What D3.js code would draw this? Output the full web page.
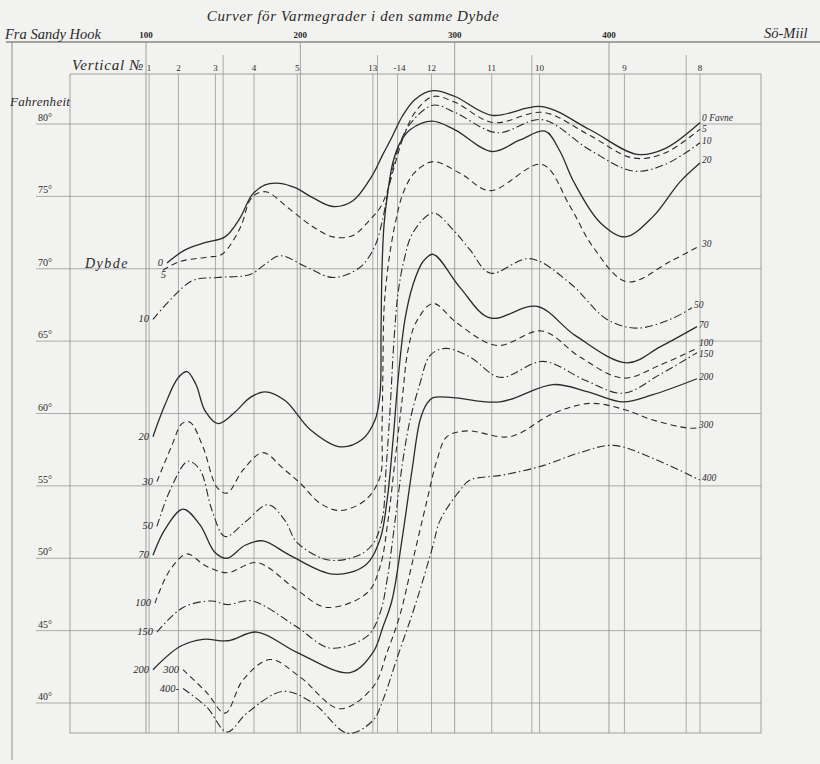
<!DOCTYPE html>
<html>
<head>
<meta charset="utf-8">
<script src="https://cdn.jsdelivr.net/npm/d3@7"></script>
<style>
  body { margin: 0; background: #f2f2f0; }
  svg { display: block; }
  text { font-family: "Liberation Serif", "DejaVu Serif", serif; fill: #2a2a2a; }
  .it { font-style: italic; }
</style>
</head>
<body>
<div id="chart"></div>
<script>
// --- data (Sö-Miil from Sandy Hook, degrees Fahrenheit) ---
var mileTicks = [100, 200, 300, 400];
var halfTicks = [150, 250, 350, 450];
var tempTicks = [40, 45, 50, 55, 60, 65, 70, 75, 80];
var stationNames = ["1", "2", "3", "4", "5", "13", "14", "12", "11", "10", "9", "8"];
var stationMiles = [102, 121, 145, 170, 198, 247, 263, 285, 324, 355, 410, 459];
var depths = ["0", "5", "10", "20", "30", "50", "70", "100", "150", "200", "300", "400"];

var t0 = [[113.6,70.4],[125.3,71.3],[138.2,71.8],[151.2,72.2],[160.9,73.5],[168.7,75.1],[177.1,75.8],[186.8,75.9],[196.6,75.6],[208.2,74.9],[221.2,74.3],[234.1,74.7],[246.4,76.4],[253.5,77.9],[259.4,79.1],[265.9,80.5],[274.3,81.7],[286.0,82.3],[300.2,81.9],[324.2,80.6],[356.6,81.2],[387.7,79.6],[418.2,77.9],[436.3,78.3],[459.0,80.1]];
var t5 = [[111.0,69.9],[122.0,70.5],[139.5,70.8],[149.2,71.0],[160.9,72.8],[167.4,74.75],[171.9,75.2],[178.4,75.3],[193.3,74.1],[208.2,72.9],[221.2,72.2],[234.1,72.3],[245.2,73.4],[251.6,74.2],[256.2,75.3],[260.7,77.0],[266.5,79.0],[274.3,80.8],[286.0,81.9],[300.2,81.5],[324.9,80.1],[357.3,80.8],[387.7,79.2],[415.6,77.65],[436.3,78.0],[459.0,79.65]];
var t10 = [[104.5,66.5],[117.5,68.05],[130.5,69.2],[146.0,69.4],[167.4,69.6],[177.1,70.3],[186.8,70.9],[204.3,70.1],[221.2,69.4],[238.7,70.1],[248.4,71.6],[253.5,73.5],[256.2,75.0],[259.4,76.7],[264.0,78.5],[271.1,80.0],[286.0,81.3],[300.2,80.8],[327.4,79.4],[356.6,80.3],[387.7,78.2],[415.6,76.75],[436.3,77.2],[459.0,78.7]];
var t20 = [[104.5,58.4],[112.3,60.6],[120.7,62.45],[126.6,62.9],[132.4,62.0],[138.2,60.2],[146.7,59.3],[157.7,60.1],[167.4,61.1],[177.1,61.5],[190.1,60.9],[206.3,58.9],[225.7,57.7],[240.0,58.2],[248.4,59.55],[251.6,61.3],[252.3,65.8],[252.9,69.9],[254.2,73.0],[256.8,75.4],[260.1,77.4],[264.6,78.7],[271.1,79.6],[285.3,80.2],[300.2,79.6],[324.2,78.1],[342.4,78.9],[358.6,79.5],[368.3,78.1],[376.7,76.1],[394.2,73.2],[410.4,72.2],[428.5,73.6],[446.0,76.0],[459.0,77.3]];
var t30 = [[107.1,55.3],[116.8,57.8],[123.3,59.3],[128.5,59.4],[136.9,57.7],[146.0,54.9],[152.5,54.5],[162.9,56.1],[175.8,57.3],[188.8,56.2],[199.8,55.2],[212.8,53.8],[225.7,53.3],[241.9,54.0],[251.6,55.6],[252.9,58.9],[253.5,63.0],[254.2,67.15],[256.2,69.6],[258.8,71.6],[262.0,73.4],[266.5,75.2],[273.7,76.6],[286.0,77.4],[303.5,76.6],[322.9,75.4],[356.6,77.2],[374.8,74.3],[389.7,71.5],[411.7,69.1],[439.6,70.5],[459.0,71.6]];
var t50 = [[107.1,52.2],[115.6,54.7],[127.2,56.7],[135.0,56.1],[142.8,53.3],[151.2,51.5],[164.2,52.5],[179.1,53.7],[190.1,52.6],[197.8,51.1],[217.3,49.9],[235.4,50.1],[246.4,50.9],[252.9,52.6],[255.5,56.1],[258.1,60.2],[260.7,65.1],[263.3,68.3],[267.2,70.6],[273.0,72.5],[286.0,73.85],[298.9,72.7],[310.0,71.3],[322.9,69.7],[348.8,70.7],[374.8,69.0],[398.7,66.5],[418.2,65.9],[439.6,66.5],[453.8,67.3]];
var t70 = [[104.5,50.2],[112.3,52.0],[124.0,53.4],[135.0,52.3],[144.7,50.4],[152.5,50.0],[164.2,50.9],[175.8,51.2],[193.3,50.2],[221.2,48.9],[241.9,49.5],[251.6,51.3],[256.2,54.0],[260.1,58.2],[263.3,62.3],[267.8,66.5],[273.0,68.9],[279.5,70.5],[286.0,71.0],[303.5,68.7],[322.9,66.6],[353.4,67.4],[378.0,65.4],[411.7,63.5],[433.1,64.6],[457.0,66.0]];
var t100 = [[105.8,46.9],[115.6,49.2],[126.6,50.3],[138.2,49.5],[152.5,49.0],[171.9,49.7],[197.8,47.8],[217.3,46.6],[243.2,47.6],[251.6,49.4],[256.8,52.6],[261.4,56.8],[265.9,60.9],[269.8,64.4],[275.0,66.3],[286.0,67.6],[301.5,66.25],[327.4,64.7],[356.6,65.7],[381.2,63.9],[409.1,62.45],[433.1,63.35],[457.0,64.5]];
var t150 = [[107.1,44.9],[124.0,46.6],[142.8,47.05],[152.5,46.8],[168.7,47.05],[197.8,45.25],[219.2,43.8],[243.2,44.6],[251.6,46.2],[256.2,48.5],[261.4,52.6],[266.5,56.8],[271.1,59.55],[277.6,62.1],[284.0,64.0],[293.8,64.5],[310.0,63.9],[329.4,62.5],[357.3,63.6],[384.5,62.3],[409.1,61.4],[433.1,62.7],[457.0,64.2]];
var t200 = [[104.5,42.3],[122.0,43.9],[136.9,44.4],[153.1,44.3],[171.9,44.9],[197.8,43.5],[232.2,42.1],[247.1,43.5],[253.5,45.25],[259.4,47.1],[265.9,51.3],[272.4,56.1],[277.6,59.55],[282.1,60.7],[286.0,61.1],[298.9,61.1],[329.4,60.8],[363.7,62.0],[386.4,61.5],[409.1,60.8],[428.5,61.3],[457.0,62.4]];
var t300 = [[124.0,42.3],[139.5,40.7],[151.2,39.3],[162.9,41.6],[180.4,43.0],[199.8,41.8],[225.7,39.6],[247.1,41.1],[256.2,43.5],[264.6,46.1],[273.0,49.9],[282.1,54.0],[288.6,56.8],[295.0,58.4],[308.0,58.8],[335.9,58.4],[363.7,60.0],[387.7,60.7],[409.1,60.3],[428.5,59.55],[450.6,59.0],[457.0,59.0]];
var t400 = [[124.0,41.0],[139.5,39.7],[152.5,38.0],[165.4,39.3],[188.8,40.8],[208.2,40.0],[230.9,37.9],[247.1,38.8],[253.5,40.2],[263.3,43.3],[272.4,46.1],[279.5,48.5],[286.0,50.9],[290.5,52.6],[303.5,54.7],[310.0,55.4],[331.3,55.75],[357.3,56.4],[381.2,57.3],[402.6,57.8],[428.5,56.9],[459.0,55.4]];

var curves = [t0, t5, t10, t20, t30, t50, t70, t100, t150, t200, t300, t400];

// --- layout ---
var width = 820, height = 764;
var box = {left: 70, right: 761, top: 74, bottom: 733};
// label nudges (px) for the depth names at the right end of each curve
var rightDy = [-5, 0, -2, -3, -2, -3, -2, -5, 1, -2, -3, -2];

var x = d3.scaleLinear().domain([100, 400]).range([146, 609]);
var y = d3.scaleLinear().domain([40, 80]).range([703, 124]);

var svg = d3.select("#chart").append("svg")
    .attr("width", width)
    .attr("height", height);

var ink = "#2b2b2b", grid = "#8c8c8c";

// outer frame
svg.append("line").attr("x1", 6).attr("x2", 820).attr("y1", 42).attr("y2", 42)
    .attr("stroke", "#555").attr("stroke-width", 1);
svg.append("line").attr("x1", 12).attr("x2", 12).attr("y1", 42).attr("y2", 760)
    .attr("stroke", "#777").attr("stroke-width", 0.8);

// inner box
svg.append("rect")
    .attr("x", box.left).attr("y", box.top)
    .attr("width", box.right - box.left).attr("height", box.bottom - box.top)
    .attr("fill", "none").attr("stroke", grid).attr("stroke-width", 0.8);

// temperature lines
svg.append("g").selectAll("line")
    .data(tempTicks)
    .enter().append("line")
    .attr("x1", 36).attr("x2", box.right)
    .attr("y1", function(d) { return y(d); })
    .attr("y2", function(d) { return y(d); })
    .attr("stroke", grid).attr("stroke-width", 0.7);

svg.append("g").selectAll("text")
    .data(tempTicks)
    .enter().append("text")
    .attr("x", 38)
    .attr("y", function(d) { return y(d) - 3; })
    .style("font-size", "10px")
    .text(function(d) { return d + "°"; });

// mile lines (top scale)
svg.append("g").selectAll("line")
    .data(mileTicks)
    .enter().append("line")
    .attr("x1", function(d) { return x(d); })
    .attr("x2", function(d) { return x(d); })
    .attr("y1", 42).attr("y2", box.bottom)
    .attr("stroke", grid).attr("stroke-width", 0.8);

svg.append("g").selectAll("line")
    .data(halfTicks)
    .enter().append("line")
    .attr("x1", function(d) { return x(d); })
    .attr("x2", function(d) { return x(d); })
    .attr("y1", 55).attr("y2", box.bottom)
    .attr("stroke", grid).attr("stroke-width", 0.7);

svg.append("g").selectAll("text")
    .data(mileTicks)
    .enter().append("text")
    .attr("x", function(d) { return x(d); })
    .attr("y", 38)
    .attr("text-anchor", "middle")
    .style("font-size", "9px")
    .style("font-weight", "bold")
    .text(function(d) { return d; });

// station verticals
svg.append("g").selectAll("line")
    .data(stationMiles)
    .enter().append("line")
    .attr("x1", function(d) { return x(d); })
    .attr("x2", function(d) { return x(d); })
    .attr("y1", box.top).attr("y2", box.bottom)
    .attr("stroke", grid).attr("stroke-width", 0.7);

svg.append("g").selectAll("text")
    .data(stationNames)
    .enter().append("text")
    .attr("x", function(d, i) { return x(stationMiles[i]) + (d == "14" ? 2 : 0); })
    .attr("y", 71)
    .attr("text-anchor", "middle")
    .style("font-size", "9px")
    .text(function(d) { return d == "14" ? "-14" : d; });

// titles
svg.append("text").attr("class", "it")
    .attr("x", 353).attr("y", 21).attr("text-anchor", "middle")
    .style("font-size", "15px").style("letter-spacing", "0.6px")
    .text("Curver för Varmegrader i den samme Dybde");
svg.append("text").attr("class", "it")
    .attr("x", 5).attr("y", 39)
    .style("font-size", "14.5px")
    .text("Fra Sandy Hook");
svg.append("text").attr("class", "it")
    .attr("x", 764).attr("y", 38)
    .style("font-size", "14.5px")
    .text("Sö-Miil");
svg.append("text").attr("class", "it")
    .attr("x", 72).attr("y", 70)
    .style("font-size", "15px").style("letter-spacing", "0.8px")
    .text("Vertical №");
svg.append("text").attr("class", "it")
    .attr("x", 10).attr("y", 106)
    .style("font-size", "13px").style("letter-spacing", "0.3px")
    .text("Fahrenheit");
svg.append("text").attr("class", "it")
    .attr("x", 85).attr("y", 268)
    .style("font-size", "14px").style("letter-spacing", "1.5px")
    .text("Dybde");

// depth curves
var line = d3.line()
    .x(function(d) { return x(d[0]); })
    .y(function(d) { return y(d[1]); })
    .curve(d3.curveCatmullRom.alpha(0.5));

var dashes = [null, "6,4", "8,3,1.5,3"];

svg.append("g").selectAll("path")
    .data(curves)
    .enter().append("path")
    .attr("d", line)
    .attr("fill", "none")
    .attr("stroke", ink)
    .attr("stroke-width", function(d, i) { return i % 3 == 0 ? 1.3 : 1.1; })
    .attr("stroke-dasharray", function(d, i) { return dashes[i % 3]; });

// depth labels, right end
svg.append("g").selectAll("text")
    .data(curves)
    .enter().append("text")
    .attr("class", "it")
    .attr("x", function(d) { return x(d[d.length - 1][0]) + 2; })
    .attr("y", function(d, i) { return y(d[d.length - 1][1]) + 3 + rightDy[i]; })
    .style("font-size", "9.5px")
    .text(function(d, i) { return i == 0 ? "0 Favne" : depths[i]; });

// depth labels, left start
svg.append("g").selectAll("text")
    .data(curves)
    .enter().append("text")
    .attr("class", "it")
    .attr("text-anchor", "end")
    .attr("x", function(d, i) { return x(d[0][0]) + (i == 1 ? 3 : -4); })
    .attr("y", function(d, i) { return y(d[0][1]) + (i == 1 ? 8 : 3); })
    .style("font-size", "10.5px")
    .text(function(d, i) { return i == 11 ? "400-" : depths[i]; });
</script>
</body>
</html>
